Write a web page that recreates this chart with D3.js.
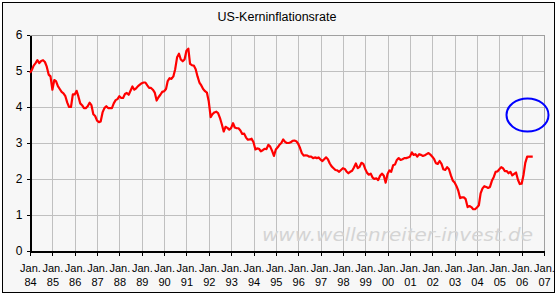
<!DOCTYPE html>
<html>
<head>
<meta charset="utf-8">
<script src="https://cdn.jsdelivr.net/npm/d3@7"></script>
<style>
  body { margin: 0; background: #ffffff; }
  svg { display: block; font-family: "Liberation Sans", Arial, sans-serif; }
</style>
</head>
<body>
<svg id="chart"></svg>
<script>
// US core inflation (YoY, %), monthly from Jan 1984
const startYear = 1984;
const coreRate = [
  // 1984
  4.95, 5.03, 5.15, 5.22, 5.30, 5.22, 5.28, 5.30, 5.25, 5.12, 4.90, 4.85,
  // 1985
  4.48, 4.75, 4.72, 4.58, 4.50, 4.42, 4.38, 4.30, 4.12, 4.00, 4.00, 4.35,
  // 1986
  4.35, 4.45, 4.30, 4.10, 4.05, 3.97, 3.97, 4.02, 4.12, 4.05, 3.80, 3.75,
  // 1987
  3.62, 3.58, 3.60, 3.85, 3.97, 4.02, 3.97, 3.97, 3.97, 4.10, 4.19, 4.22,
  // 1988
  4.30, 4.25, 4.25, 4.36, 4.39, 4.34, 4.45, 4.57, 4.48, 4.52, 4.58, 4.62,
  // 1989
  4.66, 4.68, 4.68, 4.60, 4.53, 4.53, 4.48, 4.40, 4.18, 4.27, 4.34, 4.42,
  // 1990
  4.44, 4.50, 4.72, 4.80, 4.78, 4.85, 5.05, 5.38, 5.48, 5.32, 5.27, 5.32,
  // 1991
  5.56, 5.62, 5.20, 5.16, 5.15, 5.05, 4.85, 4.68, 4.60, 4.50, 4.44, 4.40,
  // 1992
  4.15, 3.72, 3.80, 3.85, 3.87, 3.83, 3.70, 3.52, 3.32, 3.45, 3.42, 3.37,
  // 1993
  3.42, 3.55, 3.43, 3.41, 3.41, 3.35, 3.25, 3.26, 3.15, 3.09, 3.10, 3.12,
  // 1994
  3.02, 2.82, 2.85, 2.84, 2.77, 2.80, 2.84, 2.83, 2.95, 2.90, 2.78, 2.64,
  // 1995
  2.82, 2.88, 2.95, 3.00, 3.10, 3.03, 3.00, 3.00, 3.02, 3.06, 3.07, 3.05,
  // 1996
  2.98, 2.86, 2.72, 2.65, 2.66, 2.65, 2.62, 2.62, 2.58, 2.60, 2.58, 2.60,
  // 1997
  2.54, 2.50, 2.55, 2.60, 2.55, 2.43, 2.35, 2.30, 2.25, 2.24, 2.20, 2.25,
  // 1998
  2.30, 2.28, 2.21, 2.16, 2.20, 2.23, 2.32, 2.43, 2.30, 2.34, 2.45, 2.42,
  // 1999
  2.28, 2.17, 2.12, 2.15, 2.04, 2.00, 2.02, 1.97, 2.09, 2.15, 2.09, 1.90,
  // 2000
  2.14, 2.24, 2.20, 2.38, 2.40, 2.53, 2.58, 2.53, 2.55, 2.58, 2.58, 2.60,
  // 2001
  2.62, 2.74, 2.67, 2.69, 2.62, 2.69, 2.67, 2.64, 2.66, 2.69, 2.72, 2.68,
  // 2002
  2.62, 2.55, 2.44, 2.42, 2.50, 2.42, 2.27, 2.25, 2.33, 2.27, 2.10, 1.96,
  // 2003
  1.90, 1.80, 1.68, 1.47, 1.49, 1.49, 1.44, 1.22, 1.25, 1.22, 1.16, 1.16,
  // 2004
  1.21, 1.27, 1.60, 1.74, 1.80, 1.78, 1.75, 1.78, 1.95, 2.05, 2.20, 2.21,
  // 2005
  2.27, 2.33, 2.30, 2.22, 2.22, 2.16, 2.20, 2.10, 2.14, 2.18, 1.98, 1.86,
  // 2006
  1.87, 2.12, 2.45, 2.62, 2.62, 2.62, 2.62
];
const yTicks = [0, 1, 2, 3, 4, 5, 6];
const xTickYears = d3.range(1984, 2008);
const titleText = 'US-Kerninflationsrate';
const watermarkText = 'www.wellenreiter-invest.de';

const width = 558, height = 295;
const margin = { top: 35, right: 14, bottom: 44, left: 30 };

const svg = d3.select('#chart')
  .attr('width', width)
  .attr('height', height);

// outer frame
svg.append('rect')
  .attr('x', 2.5).attr('y', 2.5)
  .attr('width', 552).attr('height', 290)
  .attr('fill', '#f7f7f7')
  .attr('stroke', '#000');

const x = d3.scaleTime()
  .domain([new Date(1984, 0, 1), new Date(2007, 0, 1)])
  .range([margin.left, width - margin.right]);

const y = d3.scaleLinear()
  .domain([0, 6])
  .range([height - margin.bottom, margin.top]);

const data = coreRate.map((v, i) => ({ date: new Date(startYear, i, 1), value: v }));
const xTicks = xTickYears.map(yr => new Date(yr, 0, 1));

// grid
const grid = svg.append('g').attr('shape-rendering', 'crispEdges');
grid.selectAll('.hgrid')
  .data(yTicks.slice(1))
  .join('line')
  .attr('x1', margin.left).attr('x2', width - margin.right)
  .attr('y1', d => Math.round(y(d)) + 0.5).attr('y2', d => Math.round(y(d)) + 0.5)
  .attr('stroke', '#c0c0c0');
grid.selectAll('.vgrid')
  .data(xTicks.slice(1))
  .join('line')
  .attr('x1', d => Math.round(x(d)) + 0.5).attr('x2', d => Math.round(x(d)) + 0.5)
  .attr('y1', margin.top).attr('y2', y(0))
  .attr('stroke', '#c0c0c0');

// axes
const xAxis = d3.axisBottom(x)
  .tickValues(xTicks)
  .tickSize(4)
  .tickSizeOuter(0)
  .tickFormat(() => '');
const xAxisG = svg.append('g')
  .attr('transform', `translate(0,${Math.round(y(0)) + 0.5})`)
  .attr('shape-rendering', 'crispEdges')
  .call(xAxis);
xAxisG.select('.domain').attr('stroke', '#000').attr('stroke-width', 1.5);

xAxisG.selectAll('.tick')
  .append('text')
  .attr('fill', '#000')
  .attr('font-size', 11)
  .attr('text-anchor', 'middle')
  .selectAll('tspan')
  .data(d => ['Jan.', String(d.getFullYear()).slice(2)])
  .join('tspan')
  .attr('x', 0)
  .attr('y', (d, i) => i === 0 ? 20 : 34)
  .text(d => d);

const yAxis = d3.axisLeft(y)
  .tickValues(yTicks)
  .tickSize(4)
  .tickSizeOuter(0)
  .tickFormat(d3.format('d'));
const yAxisG = svg.append('g')
  .attr('transform', `translate(${margin.left + 0.5},0)`)
  .attr('shape-rendering', 'crispEdges')
  .call(yAxis);
yAxisG.select('.domain').attr('stroke', '#000').attr('stroke-width', 1.5);
yAxisG.selectAll('.tick text')
  .attr('font-size', 12)
  .attr('font-family', '"Liberation Sans", Arial, sans-serif')
  .attr('fill', '#000')
  .attr('x', -8);
xAxisG.attr('font-family', '"Liberation Sans", Arial, sans-serif');

// right/top plot border
svg.append('path')
  .attr('d', `M${margin.left},${margin.top + 0.5}H${width - margin.right + 0.5}V${y(0)}`)
  .attr('fill', 'none')
  .attr('stroke', '#a0a0a0')
  .attr('shape-rendering', 'crispEdges');

// watermark
svg.append('text')
  .attr('x', 262)
  .attr('y', 241)
  .attr('textLength', 271)
  .attr('lengthAdjust', 'spacingAndGlyphs')
  .attr('font-size', 18)
  .attr('font-style', 'italic')
  .attr('font-family', '"DejaVu Sans", sans-serif')
  .attr('fill', '#d4d4d4')
  .text(watermarkText);

// title
svg.append('text')
  .attr('x', 277)
  .attr('y', 21)
  .attr('text-anchor', 'middle')
  .attr('font-size', 12.5)
  .attr('fill', '#000')
  .text(titleText);

// line
const line = d3.line()
  .x(d => x(d.date))
  .y(d => y(d.value));

svg.append('path')
  .datum(data)
  .attr('d', line)
  .attr('fill', 'none')
  .attr('stroke', '#ff0000')
  .attr('stroke-width', 2.2)
  .attr('stroke-linejoin', 'round');

// highlight ellipse
svg.append('ellipse')
  .attr('cx', 527.5)
  .attr('cy', 115)
  .attr('rx', 21)
  .attr('ry', 16.5)
  .attr('fill', 'none')
  .attr('stroke', '#0000ff')
  .attr('stroke-width', 2);
</script>
</body>
</html>
